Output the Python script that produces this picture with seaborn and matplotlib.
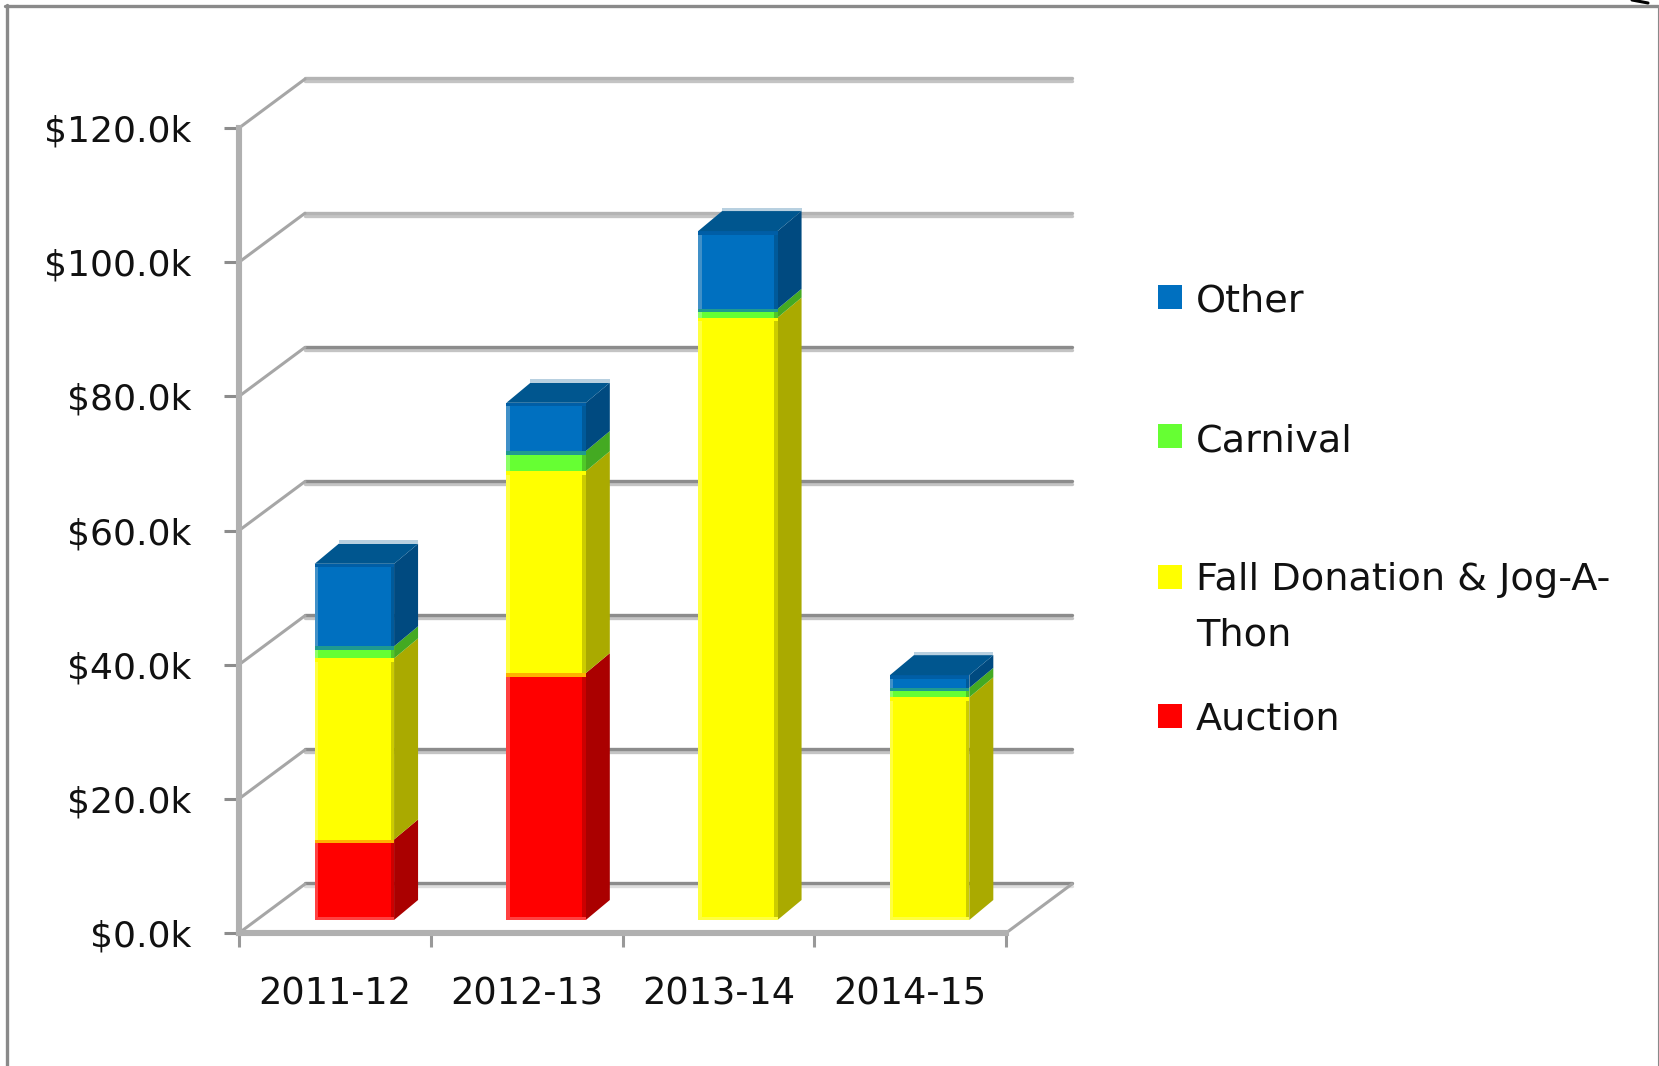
import pandas as pd
import numpy as np
import seaborn as sns
import matplotlib.pyplot as plt
from matplotlib.lines import Line2D
from matplotlib.patches import Rectangle

years = ["2011-12", "2012-13", "2013-14", "2014-15"]
auction = [12.0, 36.8, 0, 0]
fall = [27.0, 30.1, 89.8, 33.2]
carnival = [1.8, 3.0, 1.3, 1.4]
other = [12.3, 7.2, 11.6, 1.9]

sources = ["Auction", "Fall Donation & Jog-A-Thon", "Carnival", "Other"]
front_colors = ["#ff0000", "#ffff00", "#66ff33", "#0070c0"]
side_colors = ["#aa0000", "#aaaa00", "#44aa22", "#004a80"]
band_colors = ["#ffb000", "#ffff00", "#1f9a90", "#005ea6"]
left_colors = ["#ff4040", "#ffff40", "#8cff66", "#4090c8"]
right_colors = ["#cc0000", "#cccc00", "#50c828", "#005a9a"]
top_color = "#00568f"
yticks = [0, 20, 40, 60, 80, 100, 120]

W, H = 1659, 1066


def px_axes(fig, left, top, right, bottom):
    # axes position from pixel edges, y counted from the top of the image
    return fig.add_axes([left / W, 1 - bottom / H, (right - left) / W, (bottom - top) / H])


sns.set_theme(style="white")
plt.rcParams['font.family'] = ['DejaVu Sans']

fig = plt.figure(figsize=(W / 100, H / 100), dpi=100)

# front plane: spines, ticks and labels
ax = px_axes(fig, 239, 128, 1006, 933)
ax.set_xlim(-0.5, 3.5)
ax.set_ylim(0, 120)
ax.set_yticks(yticks)
ax.set_yticklabels([f"${v:.1f}k" for v in yticks])
ax.set_xticks(range(len(years)))
ax.set_xticklabels(years)
ax.set_xticks(np.arange(-0.5, 4), minor=True)
ax.tick_params(axis="y", left=True, length=11, width=2.2, color="#8c8c8c", pad=23, labelsize=26, labelcolor="#111111")
ax.tick_params(axis="x", which="major", bottom=False, length=0, pad=30.5, labelsize=26.5, labelcolor="#111111")
ax.tick_params(axis="x", which="minor", bottom=True, length=10, width=2.2, color="#999999")
sns.despine(ax=ax)
for side in ["left", "bottom"]:
    ax.spines[side].set_color("#b0b0b0")
    ax.spines[side].set_linewidth(4.4)

# back wall and floor, depth in data units
wall_dx = 66 / 191.75
wall_dy = 49 / 6.71
for v in yticks:
    dark = "#8c8c8c" if v <= 80 else "#b4b4b4"
    light = "#c4c4c4" if v >= 20 else "#dedede"
    x0, x1 = -0.5 + wall_dx, 3.5 + wall_dx
    ax.plot([x0, x1], [v + wall_dy - 0.35] * 2, color=light, lw=2.4, clip_on=False, zorder=1)
    ax.plot([x0, x1], [v + wall_dy + 0.1] * 2, color=dark, lw=2.4, clip_on=False, zorder=1)
    ax.plot([-0.5, x0], [v, v + wall_dy], color="#a6a6a6", lw=2.2, clip_on=False, zorder=1)
ax.plot([3.5, 3.5 + wall_dx], [0, wall_dy], color="#a6a6a6", lw=2.2, clip_on=False, zorder=1)

# bars sit a bit into the floor, so they get their own shifted axes
bar_ax = px_axes(fig, 258.5, 115, 1025.5, 920)
bar_ax.patch.set_alpha(0)

stack = np.array([auction, fall, carnival, other])
tops = stack.cumsum(axis=0)
df = pd.DataFrame({
    "year": years * len(sources),
    "source": np.repeat(sources, len(years)),
    "top": tops.ravel(),
})
sns.barplot(data=df, x="year", y="top", hue="source", hue_order=sources[::-1],
            palette=dict(zip(sources, front_colors)), dodge=False, saturation=1,
            width=0.414, legend=False, linewidth=0, ax=bar_ax)
bar_ax.set_xlim(-0.5, 3.5)
bar_ax.set_ylim(0, 120)
bar_ax.axis("off")

bar_half = 0.207
bar_dx = 24 / 191.75
bar_dy = 20 / 6.71
edge_x = 3.5 / 191.75
band_y = 3.5 / 6.71


def box(target, x0, x1, y0, y1, color):
    target.fill([x0, x1, x1, x0], [y0, y0, y1, y1], color=color, lw=0, clip_on=False)


for i in range(len(years)):
    xl = i - bar_half
    xr = i + bar_half
    for j in range(len(sources)):
        if stack[j, i] == 0:
            continue
        y0 = tops[j, i] - stack[j, i]
        y1 = tops[j, i]
        bar_ax.fill([xr, xr + bar_dx, xr + bar_dx, xr],
                    [y0, y0 + bar_dy, y1 + bar_dy, y1],
                    color=side_colors[j], lw=0, clip_on=False)
        # lighter left edge, darker right edge, blended band along the top
        box(bar_ax, xl, xl + edge_x, y0, y1, left_colors[j])
        box(bar_ax, xr - edge_x, xr, y0, y1, right_colors[j])
        box(bar_ax, xl, xr, y1 - band_y, y1, band_colors[j])
    first = np.nonzero(stack[:, i])[0][0]
    box(bar_ax, xl, xr, 0, band_y, left_colors[first])
    y1 = tops[-1, i]
    bar_ax.fill([xl, xl + bar_dx, xr + bar_dx, xr],
                [y1, y1 + bar_dy, y1 + bar_dy, y1],
                color=top_color, lw=0, clip_on=False)
    # pale highlight on the back edge of the top face
    box(bar_ax, xl + bar_dx, xr + bar_dx, y1 + bar_dy, y1 + bar_dy + band_y, "#b8d0e0")

# legend, laid out by hand because of the wrapped label
legend_rows = [("Other", "#0070c0", 297, 311), ("Carnival", "#66ff33", 436, 451),
               ("Fall Donation & Jog-A-", "#ffff00", 577, 590), ("Auction", "#ff0000", 716, 730)]
for label, color, y, baseline in legend_rows:
    fig.add_artist(Rectangle((1158 / W, 1 - (y + 12) / H), 24 / W, 24 / H,
                             transform=fig.transFigure, color=color, lw=0))
    fig.text(1196 / W, 1 - baseline / H, label, fontsize=27.5, color="#111111", va="baseline")
fig.text(1196 / W, 1 - 645 / H, "Thon", fontsize=27.5, color="#111111", va="baseline")

# outer chart frame
frame = "#8a8a8a"
fig.add_artist(Line2D([6.5 / W, 6.5 / W], [0, 1 - 5 / H], color=frame, lw=2.4))
fig.add_artist(Line2D([5 / W, 1658 / W], [1 - 5.5 / H, 1 - 5.5 / H], color=frame, lw=2.4))
fig.add_artist(Line2D([1658 / W, 1658 / W], [1 - 5 / H, 0], color=frame, lw=0.8))
fig.add_artist(Line2D([1632 / W, 1648 / W], [1 - 0 / H, 1 - 3 / H], color="black", lw=2.2))

fig.savefig("out.png", dpi=100)
